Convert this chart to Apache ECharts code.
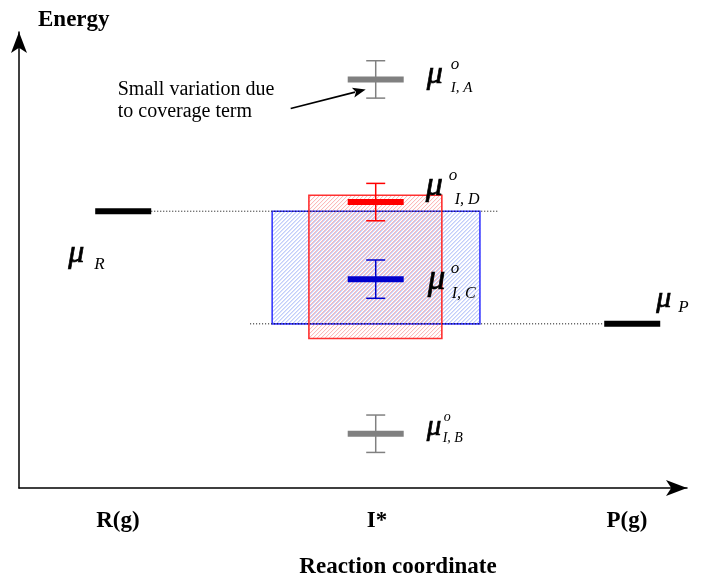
<!DOCTYPE html>
<html><head><meta charset="utf-8">
<script src="https://cdn.jsdelivr.net/npm/echarts@6/dist/echarts.min.js"></script>
<style>html,body{margin:0;padding:0;background:#fff}#chart{width:701px;height:584px}</style>
</head><body><div id="chart"></div>
<script>
// ---------------- data ----------------
const categories = ['R(g)', 'I*', 'P(g)'];
const categoryPos = [14.8, 53.6, 91.0];

const levelNames  = ['R', 'P', 'I, A', 'I, B', 'I, C', 'I, D'];
const levelX      = [15.6, 91.8, 53.4, 53.4, 53.4, 53.4];
const levelEnergy = [60.7, 36.0, 89.6, 11.9, 45.8, 62.7];
const levelError  = [0, 0, 4.1, 4.1, 4.2, 4.1];

const boxNames  = ['blue', 'red'];
const boxXStart = [37.9, 43.4];
const boxXEnd   = [69.0, 63.3];
const boxLow    = [36.0, 32.8];
const boxHigh   = [60.7, 64.2];

const guideXStart = [19.8, 34.6];
const guideXEnd   = [71.6, 87.6];
const guideEnergy = [levelEnergy[0], levelEnergy[1]];

const noteLines = ['Small variation due', 'to coverage term'];

// ---------------- styles ----------------
const SERIF = '"Liberation Serif", "Times New Roman", serif';
const levelColor = ['#000000', '#000000', '#808080', '#808080', '#0000cc', '#ff0000'];
// [fontSize, dx, dy(baseline)] relative to level centre in px
const labelSpec = [
  {mu: [32, -55, 53], sub: [17, -29, 59]},
  {mu: [30, 24, -15], sub: [17, 46, -11]},
  {mu: [32, 51, 6], sup: [17, 75, -9], sub: [15, 75, 14]},
  {mu: [29, 51, 3], sup: [14, 68, -12], sub: [14, 67, 9]},
  {mu: [35, 52, 12], sup: [17, 75, -5], sub: [16, 76, 20]},
  {mu: [34, 50, -5], sup: [17, 73, -21], sub: [16, 79, 3]}
];
const boxStroke = ['#3a3aff', '#ff3030'];
const boxHatch = ['rgba(80,115,240,0.55)', 'rgba(250,95,95,0.5)'];
const hatchStep = 4;

function txt(x, baseline, str, size, italic, heavy) {
  const st = {text: str, fontSize: size, fontFamily: SERIF, fontStyle: italic ? 'italic' : 'normal',
    fill: '#000', align: 'left', verticalAlign: 'middle'};
  if (heavy) { st.stroke = '#000'; st.lineWidth = 0.7; }
  return {type: 'text', x: x, y: baseline - 0.3375 * size, style: st};
}

function hatchLines(x0, y0, w, h, color, offset) {
  const out = [];
  for (let k = offset; k < w + h; k += hatchStep) {
    const S = x0 + y0 + k;
    const yt = Math.max(y0, S - (x0 + w));
    const yb = Math.min(y0 + h, S - x0);
    if (yb - yt > 0.5) {
      out.push({type: 'line', shape: {x1: S - yt, y1: yt, x2: S - yb, y2: yb},
        style: {stroke: color, lineWidth: 1}});
    }
  }
  return out;
}

const chart = echarts.init(document.getElementById('chart'));
chart.setOption({
  animation: false,
  grid: {left: 19, right: 14, top: 32, bottom: 91},
  xAxis: {
    type: 'value', min: 0, max: 100,
    axisLine: {show: true, symbol: ['none', 'arrow'], symbolSize: [12, 21], lineStyle: {color: '#000', width: 1.5}},
    axisTick: {show: false}, splitLine: {show: false},
    axisLabel: {
      customValues: categoryPos,
      formatter: function (v) { const k = categoryPos.indexOf(v); return k >= 0 ? categories[k] : ''; },
      fontFamily: SERIF, fontWeight: 'bold', fontSize: 23, color: '#000', margin: 22
    },
    name: 'Reaction coordinate', nameLocation: 'middle', nameGap: 68,
    nameTextStyle: {fontFamily: SERIF, fontWeight: 'bold', fontSize: 23, color: '#000', padding: [0, 0, 0, 90]}
  },
  yAxis: {
    type: 'value', min: 0, max: 100,
    axisLine: {show: true, symbol: ['none', 'arrow'], symbolSize: [12, 21], lineStyle: {color: '#000', width: 1.5}},
    axisTick: {show: false}, splitLine: {show: false}, axisLabel: {show: false},
    name: 'Energy', nameLocation: 'end', nameGap: 12,
    nameTextStyle: {fontFamily: SERIF, fontWeight: 'bold', fontSize: 23, color: '#000',
      align: 'left', verticalAlign: 'middle', padding: [0, 0, 0, 19]}
  },
  series: [
    {
      type: 'custom', name: 'ranges', z: 2,
      data: boxNames.map((n, i) => [boxXStart[i], boxXEnd[i], boxLow[i], boxHigh[i], i]),
      renderItem: function (params, api) {
        const i = api.value(4);
        const p0 = api.coord([api.value(0), api.value(3)]);
        const p1 = api.coord([api.value(1), api.value(2)]);
        const w = p1[0] - p0[0], h = p1[1] - p0[1];
        const ch = hatchLines(p0[0], p0[1], w, h, boxHatch[i], i * 2 + 1);
        ch.push({type: 'rect', shape: {x: p0[0], y: p0[1], width: w, height: h},
          style: {fill: 'none', stroke: boxStroke[i], lineWidth: 1.6}});
        return {type: 'group', children: ch};
      }
    },
    {
      type: 'custom', name: 'guides', z: 3,
      data: guideEnergy.map((e, i) => [guideXStart[i], guideXEnd[i], e]),
      renderItem: function (params, api) {
        const a = api.coord([api.value(0), api.value(2)]);
        const b = api.coord([api.value(1), api.value(2)]);
        return {type: 'line', shape: {x1: a[0], y1: a[1], x2: b[0], y2: b[1]},
          style: {stroke: '#000', lineWidth: 1, lineDash: [1, 2]}};
      }
    },
    {
      type: 'custom', name: 'levels', z: 4,
      data: levelNames.map((n, i) => [levelX[i], levelEnergy[i], levelError[i], i]),
      renderItem: function (params, api) {
        const i = api.value(3);
        const x = api.value(0), e = api.value(1), err = api.value(2);
        const c = api.coord([x, e]);
        const col = levelColor[i];
        const ch = [];
        ch.push({type: 'rect', shape: {x: c[0] - 28, y: c[1] - 3, width: 56, height: 6}, style: {fill: col}});
        if (err > 0) {
          const t = api.coord([x, e + err])[1];
          const b = api.coord([x, e - err])[1];
          const ls = {stroke: col, lineWidth: 1.5};
          ch.push({type: 'line', shape: {x1: c[0], y1: t, x2: c[0], y2: b}, style: ls});
          ch.push({type: 'line', shape: {x1: c[0] - 9.5, y1: t, x2: c[0] + 9.5, y2: t}, style: ls});
          ch.push({type: 'line', shape: {x1: c[0] - 9.5, y1: b, x2: c[0] + 9.5, y2: b}, style: ls});
        }
        const s = labelSpec[i];
        ch.push(txt(c[0] + s.mu[1], c[1] + s.mu[2], 'μ', s.mu[0], true, true));
        if (s.sup) ch.push(txt(c[0] + s.sup[1], c[1] + s.sup[2], 'o', s.sup[0], true));
        ch.push(txt(c[0] + s.sub[1], c[1] + s.sub[2], levelNames[i], s.sub[0], true));
        return {type: 'group', children: ch};
      }
    },
    {
      type: 'custom', name: 'note', z: 5,
      data: [[levelX[2], levelEnergy[2]]],
      renderItem: function (params, api) {
        const c = api.coord([api.value(0), api.value(1)]);
        const tail = [c[0] - 85, c[1] + 29];
        const tip = [c[0] - 10, c[1] + 10];
        const dx = tip[0] - tail[0], dy = tip[1] - tail[1];
        const L = Math.sqrt(dx * dx + dy * dy), ux = dx / L, uy = dy / L;
        const hl = 13, hw = 5;
        const base = [tip[0] - ux * hl, tip[1] - uy * hl];
        return {type: 'group', children: [
          {type: 'line', shape: {x1: tail[0], y1: tail[1], x2: base[0] + ux * 2, y2: base[1] + uy * 2},
            style: {stroke: '#000', lineWidth: 1.6}},
          {type: 'polygon', shape: {points: [tip, [base[0] - uy * hw, base[1] + ux * hw], [base[0] + ux * 3, base[1] + uy * 3], [base[0] + uy * hw, base[1] - ux * hw]]},
            style: {fill: '#000'}},
          txt(c[0] - 258, c[1] + 17.5, noteLines[0], 20, false),
          txt(c[0] - 258, c[1] + 39.5, noteLines[1], 20, false)
        ]};
      }
    }
  ]
});
</script></body></html>
